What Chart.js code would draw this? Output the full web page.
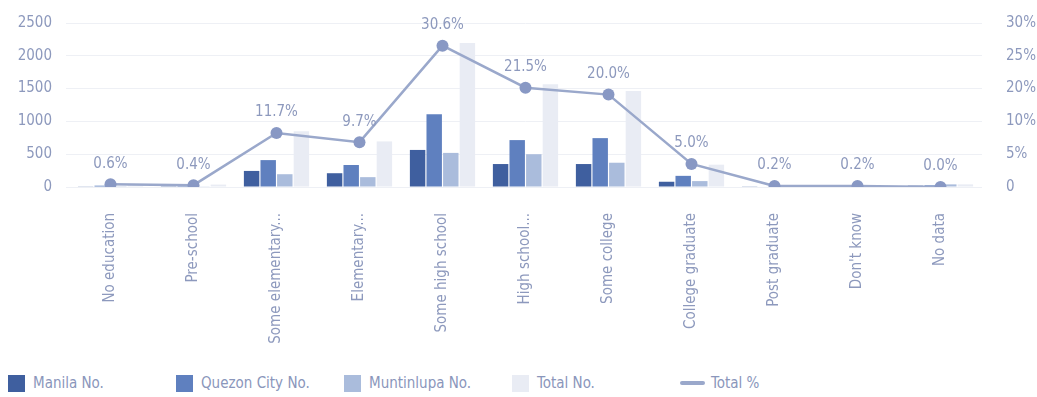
<!DOCTYPE html>
<html>
<head>
<meta charset="utf-8">
<script src="https://cdn.jsdelivr.net/npm/chart.js@4/dist/chart.umd.min.js"></script>
<style>
  body { margin: 0; background: #fff; font-family: 'Liberation Sans Narrow', 'DejaVu Sans Condensed', sans-serif; }
  #wrap { position: relative; width: 1037px; height: 397px; }
  #box { position: absolute; left: 0; top: 0; width: 1037px; height: 350px; }
  #legenda { position: absolute; left: 8px; top: 374px; display: flex; }
  .stavka { width: 168px; display: flex; align-items: center; color: #8a96bb; font-size: 15px; }
  .kvadrat { width: 17px; height: 17px; margin-right: 8px; }
  .linija { width: 25px; height: 4px; margin-right: 6px; border-radius: 2px; }
</style>
</head>
<body>
<div id="wrap">
  <div id="box"><canvas id="graf"></canvas></div>
  <div id="legenda"></div>
</div>
<script>
// Kategorije obrazovanja
const kategorije = ['No education', 'Pre-school', 'Some elementary...', 'Elementary...', 'Some high school',
  'High school...', 'Some college', 'College graduate', 'Post graduate', "Don't know", 'No data'];

// Broj ispitanika po gradu
const manila = [10, 12, 245, 210, 565, 350, 350, 80, 5, 5, 20];
const quezon = [20, 15, 410, 335, 1110, 715, 745, 170, 8, 8, 25];
const muntinlupa = [12, 10, 195, 150, 520, 500, 370, 90, 5, 5, 40];
const ukupno = [42, 37, 850, 695, 2195, 1565, 1465, 340, 18, 18, 40];

// Udio u ukupnom broju (%)
const ukupnoPosto = [0.6, 0.4, 11.7, 9.7, 30.6, 21.5, 20.0, 5.0, 0.2, 0.2, 0.0];

// Oznake osi
const lijeveOznake = [0, 500, 1000, 1500, 2000, 2500];
const desneOznake = ['0', '5%', '10%', '20%', '25%', '30%'];

const boje = ['#3f5f9f', '#5f80bf', '#aabcdc', '#e9ecf4'];
const bojaLinije = '#9aa8cb';
const bojaTeksta = '#8d99bd';
const font = "'Liberation Sans Narrow', 'DejaVu Sans Condensed', sans-serif";
const desniMax = 35.5;

// Oznake postotaka iznad točaka linije
const oznakePlugin = {
  id: 'oznake',
  afterDatasetsDraw(chart) {
    const ctx = chart.ctx;
    const meta = chart.getDatasetMeta(4);
    ctx.save();
    ctx.font = '15px ' + font;
    ctx.fillStyle = bojaTeksta;
    ctx.textAlign = 'center';
    ctx.textBaseline = 'bottom';
    meta.data.forEach((tocka, i) => {
      ctx.fillText(ukupnoPosto[i].toFixed(1) + '%', tocka.x, tocka.y - 13);
    });
    ctx.restore();
  }
};

const stupac = (naziv, podaci, boja) => ({
  type: 'bar', label: naziv, data: podaci, backgroundColor: boja,
  yAxisID: 'y', order: 1, categoryPercentage: 0.8, barPercentage: 0.93
});

const graf = new Chart(document.getElementById('graf'), {
  data: {
    labels: kategorije,
    datasets: [
      stupac('Manila No.', manila, boje[0]),
      stupac('Quezon City No.', quezon, boje[1]),
      stupac('Muntinlupa No.', muntinlupa, boje[2]),
      stupac('Total No.', ukupno, boje[3]),
      {
        type: 'line', label: 'Total %', data: ukupnoPosto, yAxisID: 'y1', order: 0,
        borderColor: bojaLinije, borderWidth: 2.5, pointRadius: 6, pointBorderWidth: 0,
        pointBackgroundColor: '#8898c4', tension: 0
      }
    ]
  },
  options: {
    responsive: true,
    maintainAspectRatio: false,
    animation: false,
    layout: { padding: 0 },
    plugins: { legend: { display: false }, tooltip: { enabled: false } },
    scales: {
      x: {
        grid: { display: false, drawTicks: false },
        border: { display: false },
        ticks: { color: bojaTeksta, font: { family: font, size: 15 }, maxRotation: 90, minRotation: 90, padding: 26, autoSkip: false },
        afterFit(s) { s.height = 163; }
      },
      y: {
        position: 'left', min: 0, max: 2500,
        afterBuildTicks(s) { s.ticks = lijeveOznake.map(v => ({ value: v })); },
        grid: { color: '#eef0f5', drawTicks: true, tickLength: 3 },
        border: { display: false },
        ticks: { color: bojaTeksta, font: { family: font, size: 15 }, padding: 14, callback: v => String(v) },
        afterFit(s) { s.width = 69; }
      },
      y1: {
        position: 'right', min: 0, max: desniMax,
        afterBuildTicks(s) { s.ticks = desneOznake.map((t, i) => ({ value: i * desniMax / (desneOznake.length - 1) })); },
        grid: { display: false, drawTicks: true, tickLength: 10 },
        border: { display: false },
        ticks: { color: bojaTeksta, font: { family: font, size: 15 }, padding: 14,
          callback: (v, i) => desneOznake[i] },
        afterFit(s) { s.width = 55; }
      }
    }
  },
  plugins: [oznakePlugin]
});

// Legenda ispod grafa
const legenda = document.getElementById('legenda');
graf.data.datasets.forEach(ds => {
  const el = document.createElement('div');
  el.className = 'stavka';
  const znak = document.createElement('span');
  if (ds.type === 'line') {
    znak.className = 'linija';
    znak.style.background = ds.borderColor;
  } else {
    znak.className = 'kvadrat';
    znak.style.background = ds.backgroundColor;
  }
  el.appendChild(znak);
  el.appendChild(document.createTextNode(ds.label));
  legenda.appendChild(el);
});
</script>
</body>
</html>
